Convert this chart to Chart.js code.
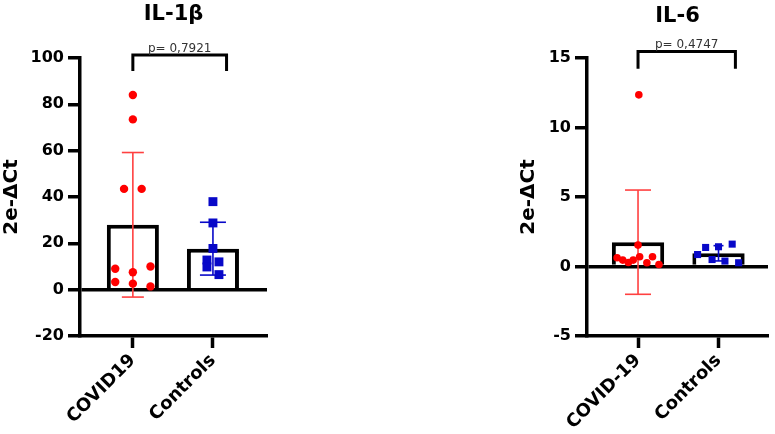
<!DOCTYPE html>
<html>
<head>
<meta charset="utf-8">
<script src="https://cdn.jsdelivr.net/npm/chart.js@4.4.1/dist/chart.umd.min.js"></script>
<style>
  body { margin: 0; background: #fff; }
  canvas { position: absolute; top: 0; }
  #il1b { left: 0; }
  #il6 { left: 517px; }
</style>
</head>
<body>
<canvas id="il1b" width="290" height="434"></canvas>
<canvas id="il6" width="258" height="434"></canvas>
<script>
// IL-1b panel
const il1bGroups = ['COVID19', 'Controls'];
const il1bCovid = [84, 73.5, 43.5, 43.5, 9, 7.5, 10, 3.3, 2.6, 1.4];
const il1bCovidJitter = [0, 0, -0.11, 0.11, -0.22, 0, 0.22, -0.22, 0, 0.22];
const il1bControls = [38, 28.8, 17.8, 12.8, 12, 9.8, 6.5];
const il1bControlsJitter = [0, 0, 0, -0.075, 0.075, -0.075, 0.075];
const il1bMeans = [28, 17.7];
const il1bSD = [31.2, 11.4];
const il1bBracketX = [0, 0, 1.17, 1.17];
const il1bBracketY = [94.4, 101.3, 101.3, 94.4];
const il1bP = 'p= 0,7921';

// IL-6 panel
const il6Groups = ['COVID-19', 'Controls'];
const il6Covid = [12.35, 1.54, 0.63, 0.46, 0.29, 0.46, 0.7, 0.27, 0.7, 0.14];
const il6CovidJitter = [0.01, 0, -0.26, -0.19, -0.12, -0.06, 0.02, 0.11, 0.18, 0.26];
const il6Controls = [0.86, 1.37, 0.5, 1.42, 0.39, 1.61, 0.27];
const il6ControlsJitter = [-0.26, -0.16, -0.08, 0, 0.08, 0.17, 0.25];
const il6Means = [1.75, 0.95];
const il6SD = [3.75, 0.55];
const il6BracketX = [0, 0, 1.21, 1.21];
const il6BracketY = [14.23, 15.47, 15.47, 14.23];
const il6P = 'p= 0,4747';

const RED = '#ff0000';
const RED_ERR = '#ff4040';
const BLUE = '#0808c8';
const FONT = '"DejaVu Sans", sans-serif';

const panelText = {
  id: 'panelText',
  afterDraw(chart, args, opts) {
    const { ctx, chartArea, scales } = chart;
    ctx.save();
    ctx.fillStyle = '#000';
    ctx.font = 'bold 21px ' + FONT;
    ctx.textAlign = 'center';
    ctx.textBaseline = 'middle';
    ctx.fillText(opts.title, (chartArea.left + chartArea.right) / 2, opts.titleY);
    const bx = opts.bracketX, by = opts.bracketY;
    ctx.font = '12px ' + FONT;
    ctx.fillStyle = '#333';
    ctx.textBaseline = 'alphabetic';
    ctx.fillText(opts.p, scales.x.getPixelForValue((bx[0] + bx[bx.length - 1]) / 2),
      scales.y.getPixelForValue(Math.max(...by)) - 3);
    ctx.restore();
  }
};

function errorSet(i, mean, sd, color, cap) {
  return {
    type: 'line',
    data: [{ x: i, y: mean - sd }, { x: i, y: mean + sd }],
    borderColor: color, borderWidth: 1.6,
    pointStyle: 'line', pointRadius: cap, pointBorderColor: color, pointBorderWidth: 1.6,
    clip: false, order: 2
  };
}

function makePanel(id, o) {
  const ctx = document.getElementById(id).getContext('2d');
  return new Chart(ctx, {
    type: 'bar',
    data: {
      datasets: [
        {
          type: 'bar',
          data: o.means.map((m, i) => ({ x: i, y: m })),
          backgroundColor: '#fff', borderColor: '#000', borderWidth: 4,
          barPercentage: o.barPct, categoryPercentage: 1, order: 3
        },
        errorSet(0, o.means[0], o.sd[0], RED_ERR, o.capRed),
        errorSet(1, o.means[1], o.sd[1], BLUE, o.capBlue),
        {
          type: 'scatter',
          data: o.covid.map((v, i) => ({ x: o.covidJitter[i], y: v })),
          backgroundColor: RED, borderWidth: 0, pointRadius: o.dotR, order: 1
        },
        {
          type: 'scatter',
          data: o.controls.map((v, i) => ({ x: 1 + o.controlsJitter[i], y: v })),
          backgroundColor: BLUE, borderWidth: 0, pointStyle: 'rect', pointRadius: o.sqR, order: 1
        },
        {
          type: 'line',
          data: o.bracketX.map((x, i) => ({ x, y: o.bracketY[i] })),
          borderColor: '#000', borderWidth: 3, pointRadius: 0, clip: false, order: 0
        }
      ]
    },
    options: {
      responsive: false,
      devicePixelRatio: 1,
      animation: false,
      events: [],
      layout: { autoPadding: false, padding: { top: 58, right: o.padRight, bottom: 0, left: 0 } },
      plugins: {
        legend: { display: false },
        tooltip: { enabled: false },
        panelText: { title: o.title, titleY: o.titleY, p: o.p, bracketX: o.bracketX, bracketY: o.bracketY }
      },
      scales: {
        x: {
          type: 'linear', offset: false, min: o.xMin, max: o.xMax,
          afterBuildTicks: s => { s.ticks = o.groups.map((_, i) => ({ value: i })); },
          afterFit: s => { s.height = 98; s.paddingLeft = 0; s.paddingRight = 0; },
          grid: { offset: false, drawOnChartArea: false, tickLength: 12, tickColor: '#000', tickWidth: 3.5 },
          border: { color: '#000', width: 3.5 },
          ticks: {
            callback: v => o.groups[v],
            minRotation: 45, maxRotation: 45, padding: 2, color: '#000',
            font: { family: FONT, size: 18, weight: 'bold' }
          }
        },
        y: {
          min: o.yMin, max: o.yMax,
          afterFit: s => { s.width = o.yWidth; },
          grid: {
            color: c => (c.tick && c.tick.value === 0 ? '#000' : 'rgba(0,0,0,0)'),
            lineWidth: 3.5, tickLength: 12, tickColor: '#000', tickWidth: 3.5
          },
          border: { color: '#000', width: 3.5 },
          ticks: {
            stepSize: o.yStep, padding: 4, color: '#000',
            font: { family: FONT, size: 16, weight: 'bold' }
          },
          title: {
            display: true, text: '2e-ΔCt', color: '#000', padding: 0,
            font: { family: FONT, size: 20, weight: 'bold' }
          }
        }
      }
    },
    plugins: [panelText]
  });
}

makePanel('il1b', {
  groups: il1bGroups, covid: il1bCovid, covidJitter: il1bCovidJitter,
  controls: il1bControls, controlsJitter: il1bControlsJitter,
  means: il1bMeans, sd: il1bSD, bracketX: il1bBracketX, bracketY: il1bBracketY,
  title: 'IL-1β', p: il1bP, titleY: 15,
  yMin: -20, yMax: 100, yStep: 20, xMin: -0.66, xMax: 1.675,
  yWidth: 80, padRight: 23, barPct: 0.65,
  capRed: 11, capBlue: 13, dotR: 4.2, sqR: 6.3
});

makePanel('il6', {
  groups: il6Groups, covid: il6Covid, covidJitter: il6CovidJitter,
  controls: il6Controls, controlsJitter: il6ControlsJitter,
  means: il6Means, sd: il6SD, bracketX: il6BracketX, bracketY: il6BracketY,
  title: 'IL-6', p: il6P, titleY: 17,
  yMin: -5, yMax: 15, yStep: 5, xMin: -0.634, xMax: 1.615,
  yWidth: 70, padRight: 7, barPct: 0.65,
  capRed: 13, capBlue: 5, dotR: 3.8, sqR: 5
});
</script>
</body>
</html>
